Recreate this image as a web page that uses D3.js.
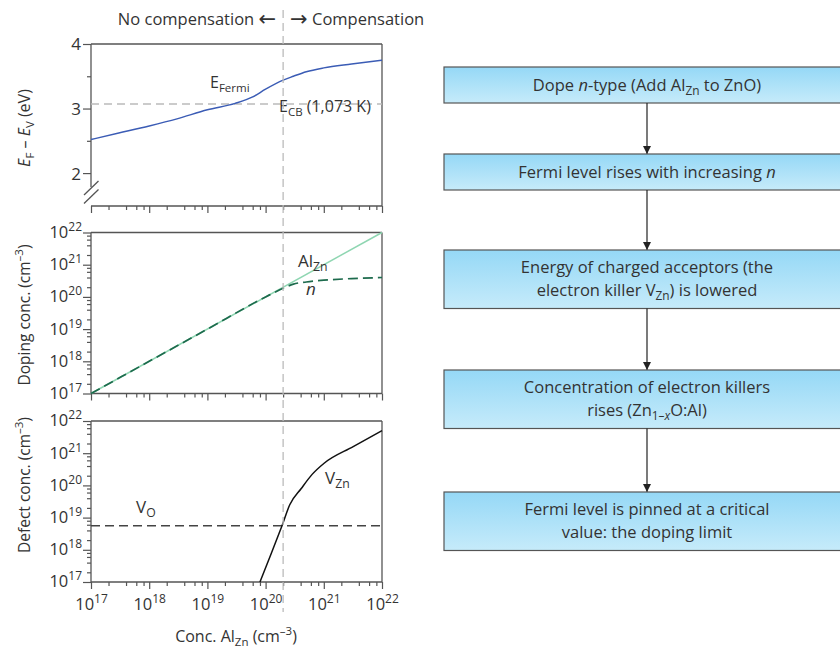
<!DOCTYPE html>
<html>
<head>
<meta charset="utf-8">
<script src="https://cdn.jsdelivr.net/npm/d3@7/dist/d3.min.js"></script>
<style>
  body { margin: 0; background: #fff; }
  text { font-family: 'Open Sans', 'Noto Sans', sans-serif; fill: #333; }
</style>
</head>
<body>
<svg width="840" height="650"></svg>
<script>
// ---- data ----
const decades = [1e17, 1e18, 1e19, 1e20, 1e21, 1e22];
const energyTicks = [2, 3, 4];
const energyMinor = [2.5, 3.5];

// top panel: Fermi level vs Al_Zn concentration
const fermiConc   = [1e17, 3e17, 1e18, 3e18, 1e19, 3e19, 6e19, 1e20, 2e20, 3e20, 5e20, 1e21, 3e21, 1e22];
const fermiEnergy = [2.52, 2.62, 2.73, 2.84, 2.98, 3.08, 3.18, 3.30, 3.44, 3.50, 3.57, 3.63, 3.69, 3.75];
const cbEnergy = 3.07;       // E_CB (1,073 K)
const crossover = 2e20;      // no compensation / compensation boundary

// middle panel: doping
const alConc   = [1e17, 1e22];
const alDoping = [1e17, 1e22];
const nConc    = [1e17, 1e18, 1e19, 1e20, 2e20, 3e20, 5e20, 1e21, 3e21, 1e22];
const nDoping  = [1e17, 1e18, 1e19, 1e20, 1.85e20, 2.5e20, 2.9e20, 3.3e20, 3.7e20, 4e20];

// bottom panel: defects
const voConc   = [1e17, 1e22];
const voDefect = [5.6e18, 5.6e18];
const vznConc   = [8e19, 1.26e20, 1.9e20, 2.6e20, 4.1e20, 6.3e20, 1e21, 3.2e21, 1e22];
const vznDefect = [1e17, 7.9e17, 5.4e18, 2.5e19, 8e19, 2.2e20, 4.8e20, 1.6e21, 5e21];

// flow chart steps: lines made of [text, style] pieces
const steps = [
  [[['Dope '], ['n', 'i'], ['-type (Add Al'], ['Zn', 'sub'], [' to ZnO)']]],
  [[['Fermi level rises with increasing '], ['n', 'i']]],
  [[['Energy of charged acceptors (the']], [['electron killer V'], ['Zn', 'sub'], [') is lowered']]],
  [[['Concentration of electron killers']], [['rises (Zn'], ['1–', 'sub'], ['x', 'subi'], ['O:Al)']]],
  [[['Fermi level is pinned at a critical']], [['value: the doping limit']]]
];

const svg = d3.select('svg');
const axisColor = '#555';

const left = 91, right = 382;
const xScale = d3.scaleLog().domain([1e17, 1e22]).range([left, right]);

const yEnergy = d3.scaleLinear().domain([1.49, 4]).range([206, 44]);
const yDoping = d3.scaleLog().domain([1e17, 1e22]).range([393.5, 232.5]);
const yDefect = d3.scaleLog().domain([1e17, 1e22]).range([582, 421]);

const minorOf = vals => vals.slice(0, -1).flatMap(d => [2, 4, 6, 8].map(m => d * m));

const styleAxis = g => {
  g.select('.domain').remove();
  g.selectAll('line').attr('stroke', axisColor).attr('stroke-width', 1.2);
  g.selectAll('text').attr('fill', '#333');
};

const supLabels = (g, anchor) => {
  g.selectAll('.tick text')
    .attr('font-size', 16.5)
    .attr('text-anchor', anchor)
    .each(function (d) {
      const t = d3.select(this).text('10');
      t.append('tspan')
        .attr('dy', -7)
        .attr('font-size', 12)
        .text(Math.round(Math.log10(d)));
    });
};

const frame = (yScale, withLeft = true) => {
  const g = svg.append('g');
  const y0 = yScale.range()[0], y1 = yScale.range()[1];
  g.append('line').attr('x1', left).attr('x2', right).attr('y1', y1).attr('y2', y1);
  g.append('line').attr('x1', right).attr('x2', right).attr('y1', y1).attr('y2', y0);
  g.append('line').attr('x1', left).attr('x2', right).attr('y1', y0).attr('y2', y0);
  if (withLeft) g.append('line').attr('x1', left).attr('x2', left).attr('y1', y1).attr('y2', y0);
  g.selectAll('line').attr('stroke', axisColor).attr('stroke-width', 1.3);
};

const xTicks = (yPos, labels) => {
  const major = svg.append('g')
    .attr('transform', `translate(0,${yPos})`)
    .call(d3.axisBottom(xScale).tickValues(decades).tickSize(7).tickPadding(4));
  styleAxis(major);
  if (labels) {
    supLabels(major, 'middle');
    major.selectAll('.tick text').attr('dy', '1em');
  } else major.selectAll('text').remove();
  const minor = svg.append('g')
    .attr('transform', `translate(0,${yPos})`)
    .call(d3.axisBottom(xScale).tickValues(minorOf(decades)).tickSize(4).tickFormat(''));
  styleAxis(minor);
};

const yLogTicks = yScale => {
  const major = svg.append('g')
    .attr('transform', `translate(${left},0)`)
    .call(d3.axisLeft(yScale).tickValues(decades).tickSize(8).tickPadding(1));
  styleAxis(major);
  supLabels(major, 'end');
  major.selectAll('.tick text').attr('dy', '0.3em');
  const minor = svg.append('g')
    .attr('transform', `translate(${left},0)`)
    .call(d3.axisLeft(yScale).tickValues(minorOf(decades)).tickSize(4).tickFormat(''));
  styleAxis(minor);
};

// rich text helper: pieces with italics / subscripts
const richText = (sel, pieces, size) => {
  let shift = 0;
  pieces.forEach(([str, st]) => {
    const sub = st === 'sub' || st === 'subi';
    const target = sub ? 4 : 0;
    sel.append('tspan')
      .attr('dy', target - shift)
      .attr('font-size', sub ? size * 0.72 : size)
      .attr('font-style', (st === 'i' || st === 'subi') ? 'italic' : null)
      .text(str);
    shift = target;
  });
  return sel;
};

const yTitle = (x, y, pieces, size) => {
  const t = svg.append('text')
    .attr('transform', `translate(${x},${y}) rotate(-90)`)
    .attr('text-anchor', 'middle')
    .attr('font-size', size);
  let shift = 0;
  pieces.forEach(([str, st]) => {
    const target = st === 'sub' ? 4 : st === 'sup' ? -7 : 0;
    t.append('tspan')
      .attr('dy', target - shift)
      .attr('font-size', target ? 11.5 : size)
      .attr('font-style', st === 'i' ? 'italic' : null)
      .text(str);
    shift = target;
  });
};

// ---- top panel ----
frame(yEnergy, false);
svg.append('line')
  .attr('x1', left).attr('x2', left)
  .attr('y1', yEnergy(4)).attr('y2', 187)
  .attr('stroke', axisColor).attr('stroke-width', 1.3);
[[195, 181], [203.5, 189.5]].forEach(([ya, yb]) => {
  svg.append('line')
    .attr('x1', 84).attr('y1', ya).attr('x2', 98.5).attr('y2', yb)
    .attr('stroke', axisColor).attr('stroke-width', 1.3);
});
const eAxis = svg.append('g')
  .attr('transform', `translate(${left},0)`)
  .call(d3.axisLeft(yEnergy).tickValues(energyTicks).tickSize(8).tickPadding(2).tickFormat(d3.format('d')));
styleAxis(eAxis);
eAxis.selectAll('text').attr('font-size', 17).attr('dy', '0.35em');
const eMinor = svg.append('g')
  .attr('transform', `translate(${left},0)`)
  .call(d3.axisLeft(yEnergy).tickValues(energyMinor).tickSize(4).tickFormat(''));
styleAxis(eMinor);
xTicks(206, false);

svg.append('line')
  .attr('x1', left).attr('x2', right)
  .attr('y1', yEnergy(cbEnergy)).attr('y2', yEnergy(cbEnergy))
  .attr('stroke', '#bbb').attr('stroke-width', 1.3).attr('stroke-dasharray', '8,5');

const line = (yScale) => d3.line()
  .x(d => xScale(d[0]))
  .y(d => yScale(d[1]))
  .curve(d3.curveMonotoneX);

svg.append('path')
  .datum(d3.zip(fermiConc, fermiEnergy))
  .attr('d', line(yEnergy))
  .attr('fill', 'none').attr('stroke', '#3b5cb5').attr('stroke-width', 1.5);

richText(svg.append('text').attr('x', 210).attr('y', 88), [['E'], ['Fermi', 'sub']], 16);
richText(svg.append('text').attr('x', 279).attr('y', 112), [['E'], ['CB', 'sub'], [' (1,073 K)']], 16);

// ---- middle panel ----
frame(yDoping);
yLogTicks(yDoping);
xTicks(yDoping.range()[0], false);

svg.append('path')
  .datum(d3.zip(alConc, alDoping))
  .attr('d', line(yDoping))
  .attr('fill', 'none').attr('stroke', '#8fd6b2').attr('stroke-width', 1.5);
svg.append('path')
  .datum(d3.zip(nConc, nDoping))
  .attr('d', line(yDoping))
  .attr('fill', 'none').attr('stroke', '#1d6b4d').attr('stroke-width', 1.7)
  .attr('stroke-dasharray', '10,5');

richText(svg.append('text').attr('x', 298).attr('y', 267), [['Al'], ['Zn', 'sub']], 17);
richText(svg.append('text').attr('x', 306).attr('y', 295), [['n', 'i']], 17);

// ---- bottom panel ----
frame(yDefect);
yLogTicks(yDefect);
xTicks(yDefect.range()[0], true);

svg.append('path')
  .datum(d3.zip(voConc, voDefect))
  .attr('d', line(yDefect))
  .attr('fill', 'none').attr('stroke', '#444').attr('stroke-width', 1.6)
  .attr('stroke-dasharray', '9,5');
svg.append('path')
  .datum(d3.zip(vznConc, vznDefect))
  .attr('d', line(yDefect))
  .attr('fill', 'none').attr('stroke', '#111').attr('stroke-width', 1.5);

richText(svg.append('text').attr('x', 136).attr('y', 513), [['V'], ['O', 'sub']], 17);
richText(svg.append('text').attr('x', 325).attr('y', 484), [['V'], ['Zn', 'sub']], 17);

// compensation boundary
svg.append('line')
  .attr('x1', xScale(crossover)).attr('x2', xScale(crossover))
  .attr('y1', 10).attr('y2', 612)
  .attr('stroke', '#bbb').attr('stroke-width', 1.3).attr('stroke-dasharray', '8,5');

const noComp = svg.append('text').attr('x', xScale(crossover) - 7).attr('y', 25)
  .attr('text-anchor', 'end').attr('font-size', 16.5);
noComp.append('tspan').text('No compensation ');
noComp.append('tspan').style('font-family', "'DejaVu Sans'").attr('font-size', 21).attr('dy', 1).text('←');
const comp = svg.append('text').attr('x', xScale(crossover) + 7).attr('y', 25)
  .attr('text-anchor', 'start').attr('font-size', 16.5);
comp.append('tspan').style('font-family', "'DejaVu Sans'").attr('font-size', 21).attr('dy', 1).text('→');
comp.append('tspan').attr('dy', -1).text(' Compensation');

// axis titles
yTitle(30, 128, [['E', 'i'], ['F', 'sub'], [' – '], ['E', 'i'], ['V', 'sub'], [' (eV)']], 16);
yTitle(30, 315, [['Doping conc. (cm'], ['–3', 'sup'], [')']], 15.5);
yTitle(30, 485, [['Defect conc. (cm'], ['–3', 'sup'], [')']], 15.5);

const xt = svg.append('text').attr('x', 236).attr('y', 642).attr('text-anchor', 'middle').attr('font-size', 16);
xt.append('tspan').text('Conc. Al');
xt.append('tspan').attr('dy', 4).attr('font-size', 11.5).text('Zn');
xt.append('tspan').attr('dy', -4).text(' (cm');
xt.append('tspan').attr('dy', -7).attr('font-size', 11.5).text('–3');
xt.append('tspan').attr('dy', 7).text(')');

// ---- flow chart ----
const defs = svg.append('defs');
const grad = defs.append('linearGradient').attr('id', 'boxFill').attr('x1', 0).attr('x2', 0).attr('y1', 0).attr('y2', 1);
grad.append('stop').attr('offset', '0%').attr('stop-color', '#95d8f6');
grad.append('stop').attr('offset', '100%').attr('stop-color', '#c6ebfa');
defs.append('marker').attr('id', 'head')
  .attr('viewBox', '0 0 10 10').attr('refX', 10).attr('refY', 5)
  .attr('markerWidth', 8).attr('markerHeight', 8).attr('markerUnits', 'userSpaceOnUse')
  .attr('orient', 'auto')
  .append('path').attr('d', 'M0,0 L10,5 L0,10 Z').attr('fill', '#222');

const boxX = 444, boxW = 406, cx = boxX + boxW / 2;
const boxTops = [67, 154, 250, 370, 492];
const lineH = 23;
const boxes = steps.map((s, i) => ({ lines: s, top: boxTops[i], h: s.length === 1 ? 36 : 58.5 }));

const bg = svg.append('g');
boxes.forEach((b, i) => {
  bg.append('rect')
    .attr('x', boxX).attr('y', b.top).attr('width', boxW).attr('height', b.h)
    .attr('fill', 'url(#boxFill)').attr('stroke', '#555').attr('stroke-width', 1.2);
  const mid = b.top + b.h / 2;
  b.lines.forEach((pieces, j) => {
    const base = mid + 5.5 + (j - (b.lines.length - 1) / 2) * lineH;
    richText(bg.append('text').attr('x', cx).attr('y', base).attr('text-anchor', 'middle'), pieces, 16.5);
  });
  if (i < boxes.length - 1) {
    bg.append('line')
      .attr('x1', cx).attr('x2', cx)
      .attr('y1', b.top + b.h).attr('y2', boxes[i + 1].top)
      .attr('stroke', '#222').attr('stroke-width', 1.2)
      .attr('marker-end', 'url(#head)');
  }
});
</script>
</body>
</html>
